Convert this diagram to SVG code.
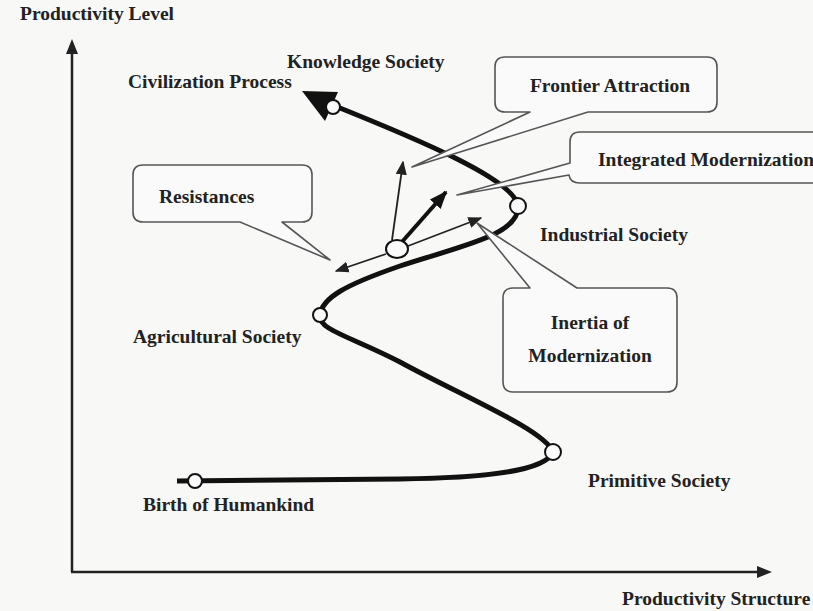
<svg xmlns="http://www.w3.org/2000/svg" width="813" height="611" viewBox="0 0 813 611">
<style>
.lbl{font-family:"Liberation Serif","Times New Roman",serif;font-weight:bold;font-size:19.5px;fill:#222}
.box{fill:#fafafa;stroke:#555;stroke-width:1.6;stroke-linejoin:round}
.axis{stroke:#222;stroke-width:2.5;fill:none}
.curve{stroke:#111;stroke-width:5;fill:none;stroke-linecap:butt}
.node{fill:#fafafa;stroke:#111;stroke-width:2}
.thin{stroke:#222;stroke-width:1.8;fill:none}
</style>
<defs>
<marker id="ah" viewBox="0 0 10 10" refX="9" refY="5" markerWidth="14" markerHeight="14" markerUnits="userSpaceOnUse" orient="auto">
<path d="M0,1 L10,5 L0,9 z" fill="#222"/>
</marker>
<marker id="ahb" viewBox="0 0 10 10" refX="9" refY="5" markerWidth="18" markerHeight="18" markerUnits="userSpaceOnUse" orient="auto">
<path d="M0,1 L10,5 L0,9 z" fill="#111"/>
</marker>
</defs>
<rect width="813" height="611" fill="#f8f8f7"/>

<g id="axes">
<path class="axis" d="M72,572 L72,50"/>
<path d="M66,54 L72,39 L78,54 z" fill="#222"/>
<path class="axis" d="M71,572 L760,572"/>
<path d="M757,566 L772,572 L757,578 z" fill="#222"/>
<text class="lbl" x="20" y="20">Productivity Level</text>
<text class="lbl" x="622" y="605">Productivity Structure</text>
</g>

<g id="connectors">
<path class="curve" d="M177,481 L400,479 C480,478 545,472 553,452 C545,430 460,395 400,362 C350,336 318,330 320,315 C322,298 345,285 400,266 C460,246 520,235 518,206 C515,180 420,140 330,104"/>
<path d="M302,91 L338,92 L325,121 z" fill="#111"/>
<path class="thin" d="M392,240 L403,162" marker-end="url(#ah)"/>
<path d="M401,243 L446,192" stroke="#111" stroke-width="4" fill="none" marker-end="url(#ahb)"/>
<path class="thin" d="M408,246 L481,218" marker-end="url(#ah)"/>
<path class="thin" d="M386,254 L336,271" marker-end="url(#ah)"/>
</g>

<g id="n-birth"><circle class="node" cx="195" cy="481" r="7"/><text class="lbl" x="143" y="511">Birth of Humankind</text></g>
<g id="n-primitive"><circle class="node" cx="553" cy="452" r="8"/><text class="lbl" x="588" y="487">Primitive Society</text></g>
<g id="n-agricultural"><circle class="node" cx="320" cy="315" r="7"/><text class="lbl" x="133" y="343">Agricultural Society</text></g>
<g id="n-middle"><ellipse class="node" cx="397" cy="249" rx="11" ry="9"/></g>
<g id="n-industrial"><circle class="node" cx="518" cy="206" r="8"/><text class="lbl" x="540" y="241">Industrial Society</text></g>
<g id="n-knowledge"><circle class="node" cx="333" cy="107" r="7"/><text class="lbl" x="287" y="68">Knowledge Society</text></g>
<g id="n-civilization"><text class="lbl" x="128" y="88">Civilization Process</text></g>

<g id="c-frontier">
<path class="box" d="M505,57 L707,57 Q717,57 717,67 L717,102 Q717,112 707,112 L588,112 L412,167 L530,112 L505,112 Q495,112 495,102 L495,67 Q495,57 505,57 z"/>
<text class="lbl" x="610" y="92" text-anchor="middle">Frontier Attraction</text>
</g>
<g id="c-integrated">
<path class="box" d="M580,132 L830,132 L830,183 L580,183 Q570,183 569,175 L457,195 L570,163 L570,142 Q570,132 580,132 z"/>
<text class="lbl" x="598" y="166">Integrated Modernization</text>
</g>
<g id="c-resistances">
<path class="box" d="M143,165 L302,165 Q312,165 312,175 L312,212 Q312,222 302,222 L282,222 L330,260 L240,222 L143,222 Q133,222 133,212 L133,175 Q133,165 143,165 z"/>
<text class="lbl" x="159" y="203">Resistances</text>
</g>
<g id="c-inertia">
<path class="box" d="M513,288 L530,288 L477,223 L577,288 L667,288 Q677,288 677,298 L677,382 Q677,392 667,392 L513,392 Q503,392 503,382 L503,298 Q503,288 513,288 z"/>
<text class="lbl" x="590" y="329" text-anchor="middle">Inertia of</text>
<text class="lbl" x="590" y="362" text-anchor="middle">Modernization</text>
</g>
</svg>
